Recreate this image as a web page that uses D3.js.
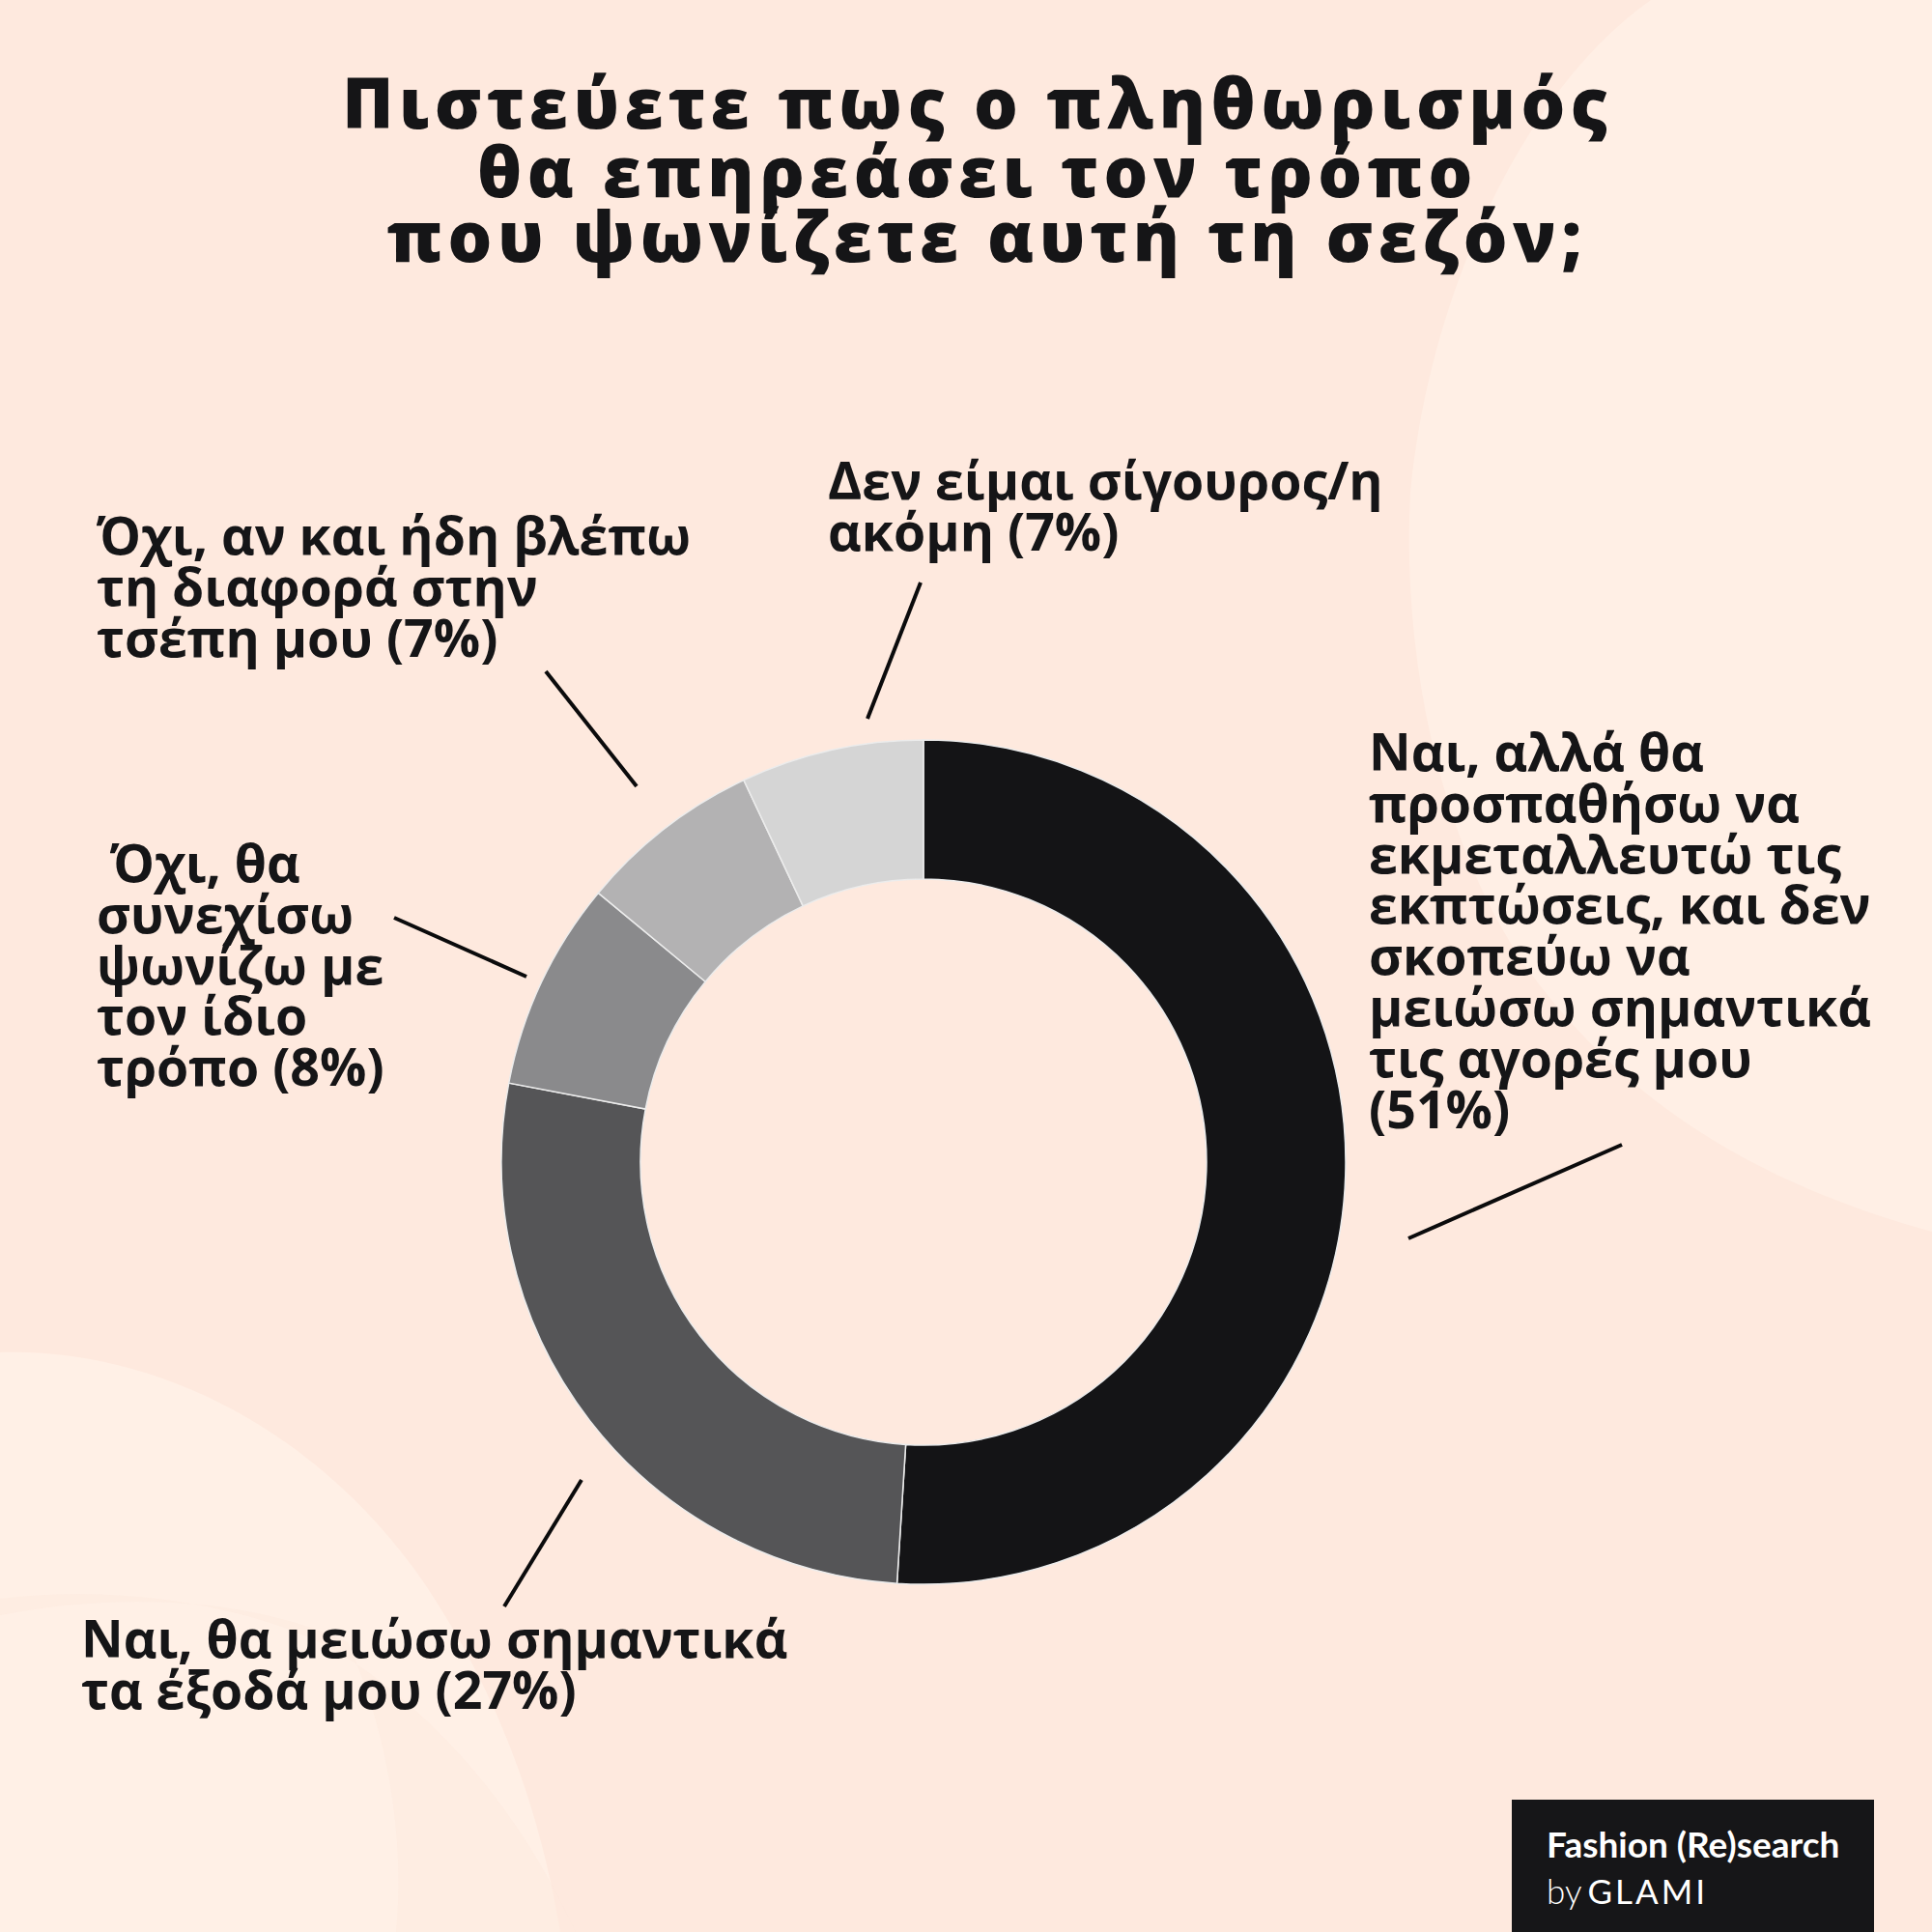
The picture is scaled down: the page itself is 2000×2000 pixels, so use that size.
<!DOCTYPE html>
<html>
<head>
<meta charset="utf-8">
<script src="https://cdn.jsdelivr.net/npm/d3@7"></script>
<style>
  html, body { margin: 0; padding: 0; background: #fee9de; }
  svg { display: block; }
</style>
</head>
<body>
<script>
// ---- data ----
const categories = [
  "Ναι, αλλά θα προσπαθήσω να εκμεταλλευτώ τις εκπτώσεις, και δεν σκοπεύω να μειώσω σημαντικά τις αγορές μου",
  "Ναι, θα μειώσω σημαντικά τα έξοδά μου",
  "Όχι, θα συνεχίσω ψωνίζω με τον ίδιο τρόπο",
  "Όχι, αν και ήδη βλέπω τη διαφορά στην τσέπη μου",
  "Δεν είμαι σίγουρος/η ακόμη"
];
const values = [51, 27, 8, 7, 7];
const labelLines = [
  ["Ναι, αλλά θα", "προσπαθήσω να", "εκμεταλλευτώ τις", "εκπτώσεις, και δεν", "σκοπεύω να", "μειώσω σημαντικά", "τις αγορές μου", "(51%)"],
  ["Ναι, θα μειώσω σημαντικά", "τα έξοδά μου (27%)"],
  [" Όχι, θα", "συνεχίσω", "ψωνίζω με", "τον ίδιο", "τρόπο (8%)"],
  ["Όχι, αν και ήδη βλέπω", "τη διαφορά στην", "τσέπη μου (7%)"],
  ["Δεν είμαι σίγουρος/η", "ακόμη (7%)"]
];
const titleLines = ["Πιστεύετε πως ο πληθωρισμός", "θα επηρεάσει τον τρόπο", "που ψωνίζετε αυτή τη σεζόν;"];
const colors = ["#141416", "#555557", "#8a8a8c", "#b3b2b3", "#d5d5d5"];

// ---- layout ----
const W = 2000, H = 2000;
const cx = 956, cy = 1203, rOuter = 437, rInner = 293;
const labelPos = [
  {x: 1417, y: 798},
  {x: 84, y: 1716},
  {x: 100, y: 913},
  {x: 100, y: 574},
  {x: 857, y: 517}
];
const leaders = [
  [[1458, 1282], [1679, 1185]],
  [[602, 1532], [522, 1663]],
  [[545, 1011], [408, 950]],
  [[659, 814], [565, 695]],
  [[898, 744], [953, 603]]
];
const labelFont = 53.7, labelLH = 52.8;

const svg = d3.select("body").append("svg").attr("width", W).attr("height", H);

// background
svg.append("rect").attr("width", W).attr("height", H).attr("fill", "#fee9de");
svg.append("path")
  .attr("d", "M1709,0 C1580,90 1480,300 1460,510 C1450,700 1500,900 1594,1020 C1680,1130 1800,1220 2000,1275 L2000,0 Z")
  .attr("fill", "#ffefe5");
svg.append("path")
  .attr("d", "M0,1400 C160,1395 330,1480 440,1640 C520,1760 560,1880 580,2000 L0,2000 Z")
  .attr("fill", "#fff0e6");
svg.append("path")
  .attr("d", "M0,1655 C120,1640 260,1660 350,1710 C460,1780 540,1880 596,2000 L410,2000 C420,1900 400,1790 360,1700 C250,1650 110,1650 0,1672 Z")
  .attr("fill", "#fee9de").attr("opacity", 0.5);

// title
const title = svg.append("g");
const tBase = [133, 204, 271];
const tCenter = [1012, 1012, 1022];
titleLines.forEach((t, i) => {
  title.append("text")
    .attr("x", tCenter[i]).attr("y", tBase[i])
    .attr("text-anchor", "middle")
    .attr("font-family", "'Open Sans', sans-serif")
    .attr("font-weight", 800)
    .attr("font-size", 72)
    .attr("fill", "#151517")
    .text(t);
});
// letter-spacing to match the wide tracking
const firstLine = title.select("text").node();
const natural = firstLine.getComputedTextLength();
const n = titleLines[0].length;
const ls = Math.max(0, (1310 - natural) / (n - 1));
title.selectAll("text").style("letter-spacing", ls + "px");

// donut
const pie = d3.pie().value(d => d).sort(null);
const arc = d3.arc().innerRadius(rInner).outerRadius(rOuter);
const arcs = pie(values);
const color = d3.scaleOrdinal().domain(d3.range(values.length)).range(colors);
svg.append("g").attr("transform", `translate(${cx},${cy})`)
  .selectAll("path").data(arcs).join("path")
  .attr("d", arc)
  .attr("fill", (d, i) => color(i))
  .attr("stroke", "#ececec")
  .attr("stroke-width", 1.5);

// leader lines
svg.append("g").selectAll("line").data(leaders).join("line")
  .attr("x1", d => d[0][0]).attr("y1", d => d[0][1])
  .attr("x2", d => d[1][0]).attr("y2", d => d[1][1])
  .attr("stroke", "#0b0b0c").attr("stroke-width", 4);

// labels
const lg = svg.append("g");
labelLines.forEach((lines, i) => {
  const t = lg.append("text")
    .attr("font-family", "'Open Sans', sans-serif")
    .attr("font-weight", 700)
    .attr("font-size", labelFont)
    .attr("fill", "#151517")
    .attr("xml:space", "preserve")
    .style("white-space", "pre");
  lines.forEach((ln, j) => {
    t.append("tspan").attr("x", labelPos[i].x).attr("y", labelPos[i].y + j * labelLH).text(ln);
  });
});

// logo
const logo = svg.append("g");
logo.append("rect").attr("x", 1565).attr("y", 1863).attr("width", 375).attr("height", 137).attr("fill", "#161618");
logo.append("text").attr("x", 1601).attr("y", 1923)
  .attr("font-family", "Lato, sans-serif").attr("font-weight", 700).attr("font-size", 37)
  .attr("fill", "#ffffff").text("Fashion (Re)search");
const by = logo.append("text").attr("x", 1601).attr("y", 1971)
  .attr("font-family", "Lato, sans-serif").attr("font-size", 35).attr("fill", "#ffffff");
by.append("tspan").attr("font-weight", 300).text("by");
by.append("tspan").attr("font-weight", 400).attr("dx", 6).style("letter-spacing", "3px").text("GLAMI");
</script>
</body>
</html>
